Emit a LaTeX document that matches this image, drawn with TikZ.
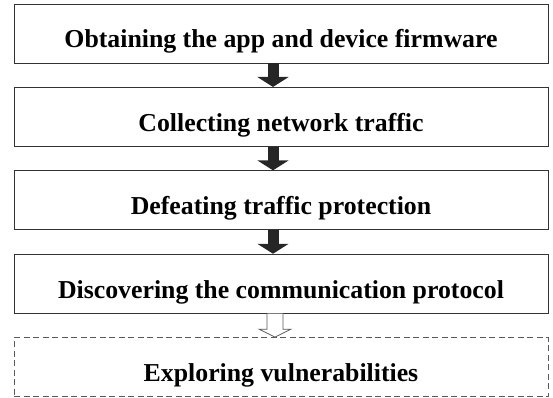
\documentclass[tikz,border=0pt]{standalone}
\usepackage{fontspec}
\setmainfont{Liberation Serif}
\usetikzlibrary{positioning, calc, arrows.meta}

\tikzset{
	stage/.style={draw=black!80, line width=0.9pt, minimum width=534pt, minimum height=59pt, inner sep=0pt,
	    text height=31pt, text depth=2pt, font=\fontsize{25.8}{30}\selectfont\bfseries},
	future/.style={stage, dash pattern=on 6pt off 3.5pt, draw=black!65},
	flow/.style={line width=11pt, draw=black!85, -{Triangle[length=10pt, width=31pt]}},
	hollow/.style={draw=black!65, line width=0.8pt, fill=white}
}

\begin{document}
\begin{tikzpicture}
	\useasboundingbox (0,0) rectangle (553pt,-398pt);
	\node[stage] (obtain) at (281pt,-33.5pt) {Obtaining the app and device firmware};
	\node[stage] (collect) [below=23.5pt of obtain] {Collecting network traffic};
	\node[stage] (defeat) [below=23.5pt of collect] {Defeating traffic protection};
	\node[stage] (discover) [below=23.5pt of defeat] {Discovering the communication protocol};
	\node[future] (explore) [below=23.5pt of discover] {Exploring vulnerabilities};
	
	\draw[flow] ([xshift=-8pt]obtain.south) -- ([xshift=-8pt]collect.north);
	\draw[flow] ([xshift=-8pt]collect.south) -- ([xshift=-8pt]defeat.north);
	\draw[flow] ([xshift=-8pt]defeat.south) -- ([xshift=-8pt]discover.north);
	\draw[hollow] ($(discover.south)+(-14pt,0)$) |- ($(explore.north)+(-22pt,8pt)$)
	    -- ($(explore.north)+(-6pt,0)$) -- ($(explore.north)+(10pt,8pt)$)
	    -| ($(discover.south)+(2pt,0)$);
\end{tikzpicture}
\end{document}
